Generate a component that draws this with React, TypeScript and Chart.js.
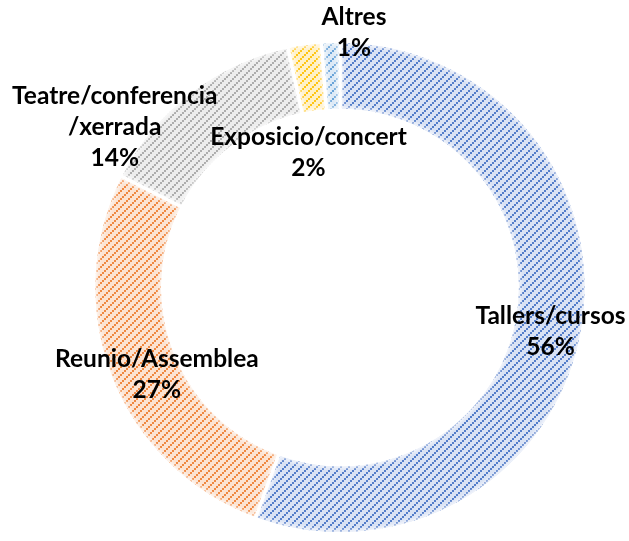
import { useEffect, useRef } from "react";
import { Chart, registerables } from "chart.js";

Chart.register(...registerables);

const categories = ["Tallers/cursos", "Reunio/Assemblea", "Teatre/conferencia", "Exposicio/concert", "Altres"];
const labelLines: string[][] = [["Tallers/cursos"], ["Reunio/Assemblea"], ["Teatre/conferencia", "/xerrada"], ["Exposicio/concert"], ["Altres"]];
const values = [55.6, 26.9, 14.1, 2.2, 1.2];
const percentLabels = ["56%", "27%", "14%", "2%", "1%"];
const lineColors = ["#4472C4", "#ED7D31", "#A5A5A5", "#FFC000", "#5B9BD5"];
const fillColors = ["#D9E2F4", "#FCE3D2", "#EDEDED", "#FFF1C8", "#DCE9F6"];
const labelOffsets: [number, number][] = [[2, 7], [14, 10], [-96, 7], [-1, 75], [22, -43]];

const FONT = "bold 24.5px Lato";
const LINE_H = 31;

function makePattern(ctx: CanvasRenderingContext2D, line: string, bg: string) {
  const c = document.createElement("canvas");
  c.width = 8;
  c.height = 8;
  const g = c.getContext("2d")!;
  g.fillStyle = bg;
  g.fillRect(0, 0, 8, 8);
  g.fillStyle = line;
  for (let i = 0; i < 8; i += 2) {
    g.globalAlpha = 0.9;
    g.fillRect(i, 6 - i < 0 ? 6 - i + 8 : 6 - i, 2, 2);
  }
  g.globalAlpha = 1;
  return ctx.createPattern(c, "repeat")!;
}

const softEdgePlugin = {
  id: "softEdges",
  afterDatasetsDraw(chart: any) {
    const ctx: CanvasRenderingContext2D = chart.ctx;
    const meta = chart.getDatasetMeta(0);
    meta.data.forEach((arc: any) => {
      const p = arc.getProps(["x", "y", "startAngle", "endAngle", "innerRadius", "outerRadius"], true);
      const inset = 1.75;
      const ro = p.outerRadius - inset;
      const ri = p.innerRadius + inset;
      const dOut = inset / ro;
      const dIn = inset / ri;
      ctx.save();
      ctx.beginPath();
      ctx.arc(p.x, p.y, ro, p.startAngle + dOut, p.endAngle - dOut);
      ctx.arc(p.x, p.y, ri, p.endAngle - dIn, p.startAngle + dIn, true);
      ctx.closePath();
      ctx.clip();
      const bands: [number, number][] = [[8, 0.18], [5, 0.22], [2.5, 0.3]];
      bands.forEach(([w, a]) => {
        ctx.lineWidth = w;
        ctx.strokeStyle = `rgba(255,255,255,${a})`;
        ctx.stroke();
      });
      ctx.restore();
    });
  },
};

const labelPlugin = {
  id: "donutLabels",
  afterDraw(chart: any) {
    const ctx: CanvasRenderingContext2D = chart.ctx;
    const meta = chart.getDatasetMeta(0);
    ctx.save();
    ctx.font = FONT;
    ctx.fillStyle = "#000";
    ctx.textAlign = "center";
    ctx.textBaseline = "middle";
    meta.data.forEach((arc: any, i: number) => {
      const p = arc.getProps(["x", "y", "startAngle", "endAngle", "innerRadius", "outerRadius"], true);
      const a = (p.startAngle + p.endAngle) / 2;
      const r = (p.innerRadius + p.outerRadius) / 2;
      const cx = p.x + Math.cos(a) * r + labelOffsets[i][0];
      const cy = p.y + Math.sin(a) * r + labelOffsets[i][1];
      const lines = [...labelLines[i], percentLabels[i]];
      const top = cy - ((lines.length - 1) * LINE_H) / 2;
      lines.forEach((t, k) => ctx.fillText(t, cx, top + k * LINE_H));
    });
    ctx.restore();
  },
};

export default function App() {
  const ref = useRef<HTMLCanvasElement>(null);
  useEffect(() => {
    const canvas = ref.current!;
    const ctx = canvas.getContext("2d")!;
    const patterns = lineColors.map((c, i) => makePattern(ctx, c, fillColors[i]));
    const chart = new Chart(canvas, {
      type: "doughnut",
      data: {
        labels: categories,
        datasets: [
          {
            data: values,
            backgroundColor: patterns,
            borderColor: "#ffffff",
            borderWidth: 3.5,
            hoverOffset: 0,
          },
        ],
      },
      options: {
        responsive: false,
        animation: false,
        cutout: "72%",
        layout: { padding: { left: 92, top: 39, right: 41, bottom: 5 } },
        plugins: { legend: { display: false }, tooltip: { enabled: false } },
        events: [],
      },
      plugins: [softEdgePlugin, labelPlugin],
    });
    return () => chart.destroy();
  }, []);
  return (
    <div style={{ position: "absolute", left: 0, top: 0, width: 629, height: 541, background: "#fff" }}>
      <canvas ref={ref} width={629} height={541} />
    </div>
  );
}
